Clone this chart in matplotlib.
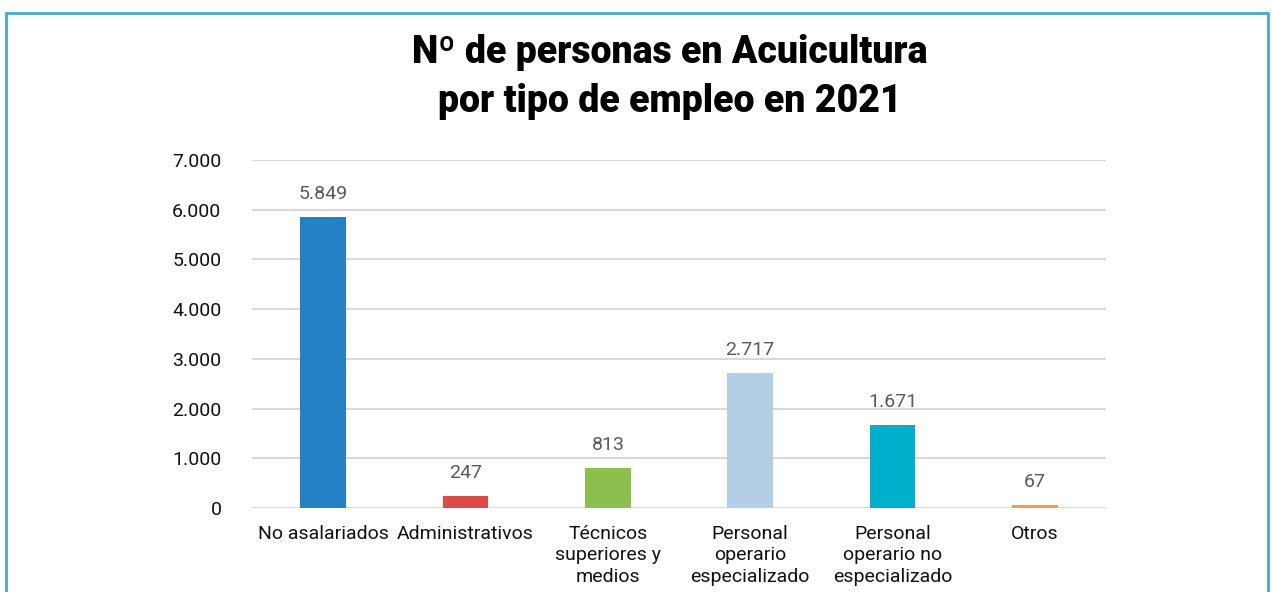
import matplotlib
matplotlib.use("Agg")
import matplotlib.pyplot as plt
from matplotlib.patches import Rectangle

categories = ["No asalariados", "Administrativos", "Técnicos\nsuperiores y\nmedios",
              "Personal\noperario\nespecializado", "Personal\noperario no\nespecializado", "Otros"]
values = [5849, 247, 813, 2717, 1671, 67]
value_labels = ["5.849", "247", "813", "2.717", "1.671", "67"]
colors = ["#2581C4", "#DC4B45", "#8DBF4F", "#B4CEE6", "#00AFCA", "#F79A56"]
yticks = [0, 1000, 2000, 3000, 4000, 5000, 6000, 7000]
ytick_labels = ["0", "1.000", "2.000", "3.000", "4.000", "5.000", "6.000", "7.000"]
title = "Nº de personas en Acuicultura\npor tipo de empleo en 2021"

plt.rcParams['font.family'] = ['Roboto', 'DejaVu Sans']

W, H = 1272, 592
fig = plt.figure(figsize=(W/100, H/100), dpi=100)
ax = fig.add_axes([252/W, 1-508/H, (1106-252)/W, (508-160)/H])

x = range(len(categories))
ax.bar(x, values, width=0.32, color=colors, zorder=3)
ax.set_xlim(-0.5, len(categories)-0.5)
ax.set_ylim(0, 7000)
ax.set_yticks(yticks)
ax.set_yticklabels(ytick_labels, fontsize=14, color="#111111")
ax.set_xticks(list(x))
ax.set_xticklabels(categories, fontsize=14, color="#111111", linespacing=1.25)
ax.tick_params(axis='both', length=0)
ax.tick_params(axis='y', pad=22)
ax.tick_params(axis='x', pad=12)
for s in ax.spines.values():
    s.set_visible(False)
ax.yaxis.grid(True, color="#D9D9D9", linewidth=1.5, zorder=0)
ax.set_axisbelow(True)

for xi, v, lab in zip(x, values, value_labels):
    ax.annotate(lab, (xi, v), xytext=(0, 10), textcoords="offset points",
                ha="center", va="bottom", fontsize=14, color="#595959")

fig.text(670/W, 1-77/H, title, ha="center", va="center", fontsize=27,
         fontweight="heavy", color="#000000", linespacing=1.4)

fig.patches.append(Rectangle((6/W, -0.05), (1268-6)/W, (1-13/H)+0.05,
                             transform=fig.transFigure, fill=False,
                             edgecolor="#4BA8CB", linewidth=2))

fig.savefig("out.png", dpi=100)
